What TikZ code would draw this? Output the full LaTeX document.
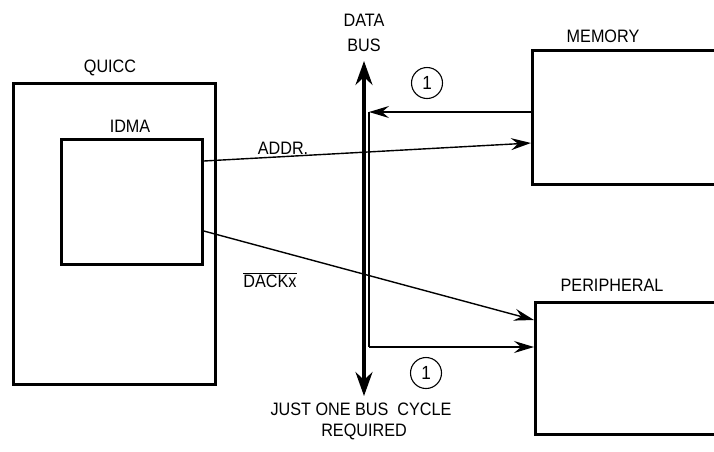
\documentclass[tikz,border=0pt]{standalone}
\usepackage{fontspec}
\setmainfont{Liberation Sans}[FakeStretch=0.9]
\usetikzlibrary{arrows.meta}
\begin{document}
\begin{tikzpicture}[x=1pt,y=-1pt,
  box/.style={draw,line width=2.8pt,inner sep=0pt},
  lbl/.style={font=\fontsize{18}{20}\selectfont,inner sep=0pt},
  conn/.style={line width=1.4pt,-{Stealth[length=20pt,width=12pt,inset=7pt]}},
  busarrow/.style={line width=3.2pt,{Stealth[length=24pt,width=17pt,inset=8pt]}-{Stealth[length=24pt,width=17pt,inset=8pt]}},
  circ/.style={draw,circle,line width=1.1pt,minimum size=31pt,inner sep=0pt,font=\fontsize{19}{21}\selectfont}]
\useasboundingbox (0,0) rectangle (714,451);
\clip (0,0) rectangle (714,451);
% boxes
\node[box,minimum width=202pt,minimum height=301pt,anchor=north west] (quicc) at (12,82) {};
\node[box,minimum width=141pt,minimum height=125pt,anchor=north west] (idma) at (60,138) {};
\node[box,minimum width=220pt,minimum height=134pt,anchor=north west] (mem) at (531,49) {};
\node[box,minimum width=220pt,minimum height=132pt,anchor=north west] (per) at (534,301) {};
% labels
\node[lbl] (tq) at (110,68) {QUICC};
\node[lbl] (ti) at (130,126) {IDMA};
\node[lbl] (tm) at (603,36) {MEMORY};
\node[lbl] (tp) at (612,285) {PERIPHERAL};
\node[lbl] (td1) at (364,20) {DATA};
\node[lbl] (td2) at (364,45) {BUS};
\node[lbl] (tj1) at (361,409) {JUST ONE BUS\ \ CYCLE};
\node[lbl] (tj2) at (364,432) {REQUIRED};
\node[lbl] (ta) at (283,148) {ADDR.};
\node[lbl] (tx) at (270,280) {$\overline{\mbox{DACKx}}$};
\node[circ] (c1) at (427,83) {1};
\node[circ] (c2) at (426,373) {1};
% data bus
\coordinate (bt) at (364,61);
\coordinate (bb) at (364,396);
\draw[busarrow] (bt) -- (bb);
% transfer path
\coordinate (m1) at (mem.west |- 0,112);
\coordinate (k1) at (369,112);
\coordinate (k2) at (369,347);
\coordinate (p2) at (per.west |- 0,347);
\draw[line width=1.3pt] (k1) -- (k2);
\draw[conn] (m1) -- (k1);
\draw[conn] (k2) -- (p2);
% address and DACK
\coordinate (a1) at (idma.east |- 0,161);
\coordinate (a2) at (mem.west |- 0,143);
\draw[conn] (a1) -- (a2);
\coordinate (d1) at (idma.east |- 0,231);
\coordinate (d2) at (per.west |- 0,320);
\draw[conn] (d1) -- (d2);
\end{tikzpicture}
\end{document}
